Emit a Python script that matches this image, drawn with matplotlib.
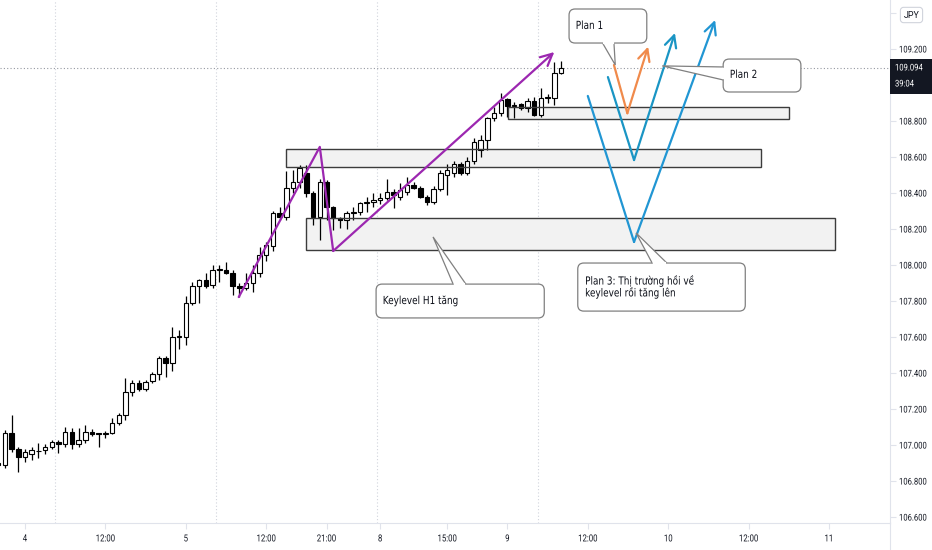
import matplotlib
matplotlib.use("Agg")
import matplotlib.pyplot as plt
from matplotlib.patches import Rectangle, FancyBboxPatch, Polygon
from matplotlib.patheffects import AbstractPathEffect
from matplotlib.transforms import Affine2D
import numpy as np

# USDJPY H1 candles, x = bar index (0 = day "4" label)
bar_x = list(range(-4, 81))
opens = [106.900, 106.889, 107.067, 106.978, 106.933, 106.950, 106.965, 106.972, 106.989, 107.017,
         107.006, 107.072, 107.006, 107.028, 107.072, 107.065, 107.063, 107.067, 107.122, 107.167,
         107.294, 107.344, 107.311, 107.356, 107.394, 107.483, 107.456, 107.600, 107.600, 107.789,
         107.883, 107.917, 107.889, 107.972, 107.972, 107.956, 107.883, 107.872, 107.900, 107.956,
         108.056, 108.106, 108.289, 108.267, 108.428, 108.461, 108.511, 108.400, 108.267, 108.461,
         108.322, 108.261, 108.250, 108.289, 108.294, 108.344, 108.350, 108.361, 108.372, 108.406,
         108.378, 108.406, 108.444, 108.428, 108.378, 108.350, 108.422, 108.500, 108.511, 108.561,
         108.511, 108.578, 108.639, 108.694, 108.817, 108.844, 108.922, 108.883, 108.894, 108.872,
         108.911, 108.833, 108.928, 108.928, 109.067]
highs = [106.930, 107.083, 107.167, 106.990, 106.978, 106.990, 107.011, 107.006, 107.028, 107.028,
         107.100, 107.094, 107.094, 107.111, 107.089, 107.067, 107.078, 107.150, 107.178, 107.372,
         107.361, 107.360, 107.360, 107.407, 107.494, 107.494, 107.656, 107.639, 107.828, 107.906,
         107.920, 107.956, 108.000, 108.000, 108.017, 107.970, 107.900, 107.956, 108.000, 108.100,
         108.130, 108.300, 108.320, 108.522, 108.528, 108.556, 108.556, 108.410, 108.480, 108.470,
         108.330, 108.265, 108.300, 108.322, 108.350, 108.378, 108.400, 108.400, 108.478, 108.420,
         108.456, 108.489, 108.460, 108.440, 108.390, 108.440, 108.528, 108.560, 108.580, 108.570,
         108.600, 108.706, 108.720, 108.820, 108.878, 108.956, 108.930, 108.906, 108.900, 108.928,
         108.933, 108.983, 108.950, 109.128, 109.133]
lows = [106.870, 106.872, 106.961, 106.850, 106.906, 106.917, 106.928, 106.950, 106.978, 106.956,
        106.989, 106.978, 106.989, 107.011, 107.050, 106.990, 107.039, 107.061, 107.111, 107.139,
        107.272, 107.300, 107.300, 107.344, 107.361, 107.378, 107.411, 107.533, 107.556, 107.778,
        107.789, 107.870, 107.870, 107.906, 107.950, 107.833, 107.822, 107.860, 107.850, 107.933,
        108.022, 108.080, 108.250, 108.250, 108.400, 108.430, 108.380, 108.222, 108.139, 108.250,
        108.194, 108.206, 108.200, 108.250, 108.280, 108.294, 108.320, 108.340, 108.360, 108.317,
        108.361, 108.390, 108.420, 108.370, 108.333, 108.340, 108.410, 108.389, 108.490, 108.500,
        108.500, 108.560, 108.600, 108.639, 108.800, 108.830, 108.822, 108.817, 108.860, 108.850,
        108.828, 108.820, 108.900, 108.889, 109.060]
closes = [106.890, 107.067, 106.978, 106.933, 106.961, 106.970, 106.968, 106.989, 107.017, 107.006,
          107.072, 107.006, 107.028, 107.072, 107.061, 107.063, 107.067, 107.122, 107.167, 107.294,
          107.344, 107.311, 107.350, 107.394, 107.483, 107.456, 107.600, 107.605, 107.789, 107.883,
          107.917, 107.883, 107.972, 107.975, 107.956, 107.883, 107.872, 107.900, 107.956, 108.056,
          108.111, 108.289, 108.267, 108.428, 108.461, 108.539, 108.400, 108.267, 108.461, 108.322,
          108.261, 108.250, 108.289, 108.294, 108.344, 108.350, 108.361, 108.372, 108.406, 108.389,
          108.417, 108.444, 108.428, 108.378, 108.350, 108.422, 108.511, 108.530, 108.561, 108.511,
          108.578, 108.683, 108.694, 108.817, 108.844, 108.917, 108.883, 108.889, 108.872, 108.911,
          108.833, 108.928, 108.930, 109.067, 109.094]
last_price = 109.094
countdown = "39:04"

tick_pos = [0, 12, 24, 36, 45, 53, 63, 72, 84, 96, 108, 120]
tick_lab = ["4", "12:00", "5", "12:00", "21:00", "8", "15:00", "9", "12:00", "10", "12:00", "11"]
session_breaks = [4.5, 28.5, 52.5, 76.5]
price_ticks = np.arange(106.6, 109.41, 0.2)
hidden_ticks = [109.0, 109.4]   # under the price box / currency badge

# drawn zones (left, right, bottom, top)
zone_left = [72.1, 39.0, 41.9]
zone_right = [114.0, 109.9, 120.9]
zone_bottom = [108.811, 108.544, 108.083]
zone_top = [108.878, 108.644, 108.261]

# trend lines
purple_x = [31.9, 44.0, 46.0, 79.0]
purple_y = [107.822, 108.656, 108.078, 109.183]
orange_x = [87.9, 89.9, 93.0]
orange_y = [109.111, 108.843, 109.213]
blue2_x = [87.0, 90.9, 97.0]
blue2_y = [109.044, 108.583, 109.289]
blue3_x = [84.0, 90.9, 103.0]
blue3_y = [108.939, 108.128, 109.361]

# callouts
call_text = ["Plan 1", "Plan 2", "Keylevel H1 tăng", "Plan 3: Thị trường hồi về\nkeylevel rồi tăng lên"]
call_box = [(81.2, 92.8, 109.233, 109.422), (104.2, 115.8, 108.961, 109.144),
            (52.4, 77.5, 107.706, 107.894), (82.5, 107.5, 107.744, 108.011)]
call_base = [((86.2, 109.233), (87.9, 109.233)), ((104.2, 109.100), (104.2, 109.028)),
             ((63.9, 107.894), (65.8, 107.894)), ((93.6, 108.011), (95.8, 108.011))]
call_tip = [(88.1, 109.111), (95.1, 109.106), (60.9, 108.156), (91.2, 108.178)]
call_txt_pos = [(82.2, 109.328), (105.2, 109.056), (53.4, 107.800), (83.6, 107.878)]


class Squeeze(AbstractPathEffect):
    # the screenshot text is narrow, so squeeze glyphs horizontally
    def __init__(self, sx=0.8, center=False):
        super().__init__()
        self.sx = sx
        self.center = center

    def draw_path(self, renderer, gc, tpath, affine, rgbFace=None):
        cx = 0
        if self.center:
            ext = tpath.get_extents()
            cx = (ext.x0 + ext.x1) / 2
        t = Affine2D().translate(-cx, 0).scale(self.sx, 1).translate(cx, 0)
        renderer.draw_path(gc, tpath, t + affine, rgbFace)


W, H = 932, 550
fig = plt.figure(figsize=(W / 100, H / 100), dpi=100)
ax = fig.add_axes([0, 27 / H, 890 / W, 523 / H])
ax.set_xlim(-3.73, 129.1)
ax.set_ylim(106.567, 109.472)

axis_font = "Roboto"
grid_c = "#e0e3eb"

for b in session_breaks:
    ax.axvline(b, color="#d1d4dc", lw=0.8, ls=(0, (1, 2)), zorder=0)
ax.axhline(last_price, color="#9598a1", lw=0.8, ls=(0, (1, 2)), zorder=0)

# zones
for l, r, b, t in zip(zone_left, zone_right, zone_bottom, zone_top):
    ax.add_patch(Rectangle((l, b), r - l, t - b, fc="#f2f2f2", ec="none", zorder=1))
    ax.add_patch(Rectangle((l, b), r - l, t - b, fc="none", ec="#3c3c3c", lw=1.0, zorder=4))

# candles
o = np.array(opens); h = np.array(highs); lo = np.array(lows); c = np.array(closes)
xs = np.array(bar_x)
ax.vlines(xs, lo, h, color="#000000", lw=0.9, zorder=2)
up = c >= o
body_b = np.minimum(o, c)
body_h = np.maximum(np.abs(c - o), 0.004)
ax.bar(xs[up], body_h[up], bottom=body_b[up], width=0.66, color="white", edgecolor="#000000", lw=0.8, zorder=3)
ax.bar(xs[~up], body_h[~up], bottom=body_b[~up], width=0.66, color="black", edgecolor="#000000", lw=0.8, zorder=3)


def arrow_line(px, py, col):
    ax.plot(px[:-1], py[:-1], color=col, lw=1.6, zorder=6, solid_capstyle="round")
    ax.annotate("", xy=(px[-1], py[-1]), xytext=(px[-2], py[-2]),
                arrowprops=dict(arrowstyle="->,head_length=0.85,head_width=0.42", color=col, lw=1.6,
                                shrinkA=0, shrinkB=0), zorder=6)


arrow_line(purple_x, purple_y, "#9c27b0")
arrow_line(blue3_x, blue3_y, "#2196d3")
arrow_line(blue2_x, blue2_y, "#1a95c4")
arrow_line(orange_x, orange_y, "#f08a4b")

asp = (ax.get_ylim()[1] - ax.get_ylim()[0]) / 523 / ((ax.get_xlim()[1] - ax.get_xlim()[0]) / 890)
edge = "#808080"
for txt, (x0, x1, y0, y1), (b1, b2), tip, (tx, ty) in zip(call_text, call_box, call_base, call_tip, call_txt_pos):
    ax.add_patch(FancyBboxPatch((x0, y0), x1 - x0, y1 - y0, boxstyle="round,pad=0,rounding_size=0.9",
                                mutation_aspect=asp, fc="white", ec=edge, lw=0.9, zorder=8))
    ax.add_patch(Polygon([b1, tip, b2], closed=False, fc="white", ec=edge, lw=0.9, zorder=9))
    mx = [b1[0] + (b2[0] - b1[0]) * 0.12, b2[0] - (b2[0] - b1[0]) * 0.12]
    my = [b1[1] + (b2[1] - b1[1]) * 0.12, b2[1] - (b2[1] - b1[1]) * 0.12]
    ax.plot(mx, my, color="white", lw=1.6, zorder=9.5)
    ax.text(tx, ty, txt, fontsize=8, color="#0b0e17", ha="left", va="center", zorder=10,
            linespacing=1.1, family="DejaVu Sans", path_effects=[Squeeze(0.8)])

# axes styling
for s in ["top", "left"]:
    ax.spines[s].set_visible(False)
ax.spines["right"].set_color(grid_c)
ax.spines["bottom"].set_color(grid_c)
ax.yaxis.tick_right()
ax.set_yticks(price_ticks)
ylabs = ["" if any(abs(v - hv) < 1e-6 for hv in hidden_ticks) else f"{v:.3f}" for v in price_ticks]
ax.set_yticklabels(ylabs, family=axis_font)
ax.set_xticks(tick_pos)
ax.set_xticklabels(tick_lab, family=axis_font)
ax.tick_params(axis="both", colors=grid_c, labelcolor="#131722", length=4, width=0.8)
ax.tick_params(axis="x", labelsize=7, pad=3.5)
ax.tick_params(axis="y", labelsize=6.7, pad=2.5)
for lab in ax.get_yticklabels():
    lab.set_path_effects([Squeeze(0.82)])
for lab in ax.get_xticklabels():
    lab.set_path_effects([Squeeze(0.8, center=True)])

# right axis line continues to the bottom
fig.add_artist(plt.Line2D([890 / W, 890 / W], [0, 27 / H], color=grid_c, lw=0.8, transform=fig.transFigure))

# last price label
yl = 1 - 94 / H
fig.patches.append(Rectangle((890 / W, yl), 42 / W, 35 / H, transform=fig.transFigure,
                             fc="#131722", ec="none", zorder=10))
for txt, ypx in [(f"{last_price:.3f}", 68), (countdown, 84)]:
    fig.text(895 / W, 1 - ypx / H, txt, color="white", fontsize=6.7, va="center",
             family=axis_font, zorder=11, path_effects=[Squeeze(0.82)])

# currency badge
fig.text(911.5 / W, 1 - 15 / H, "JPY", color="#131722", fontsize=6.5, ha="center", va="center",
         family=axis_font, zorder=11,
         bbox=dict(boxstyle="round,pad=0.35", fc="white", ec="#d1d4dc", lw=0.8))

fig.savefig("out.png", dpi=100)
